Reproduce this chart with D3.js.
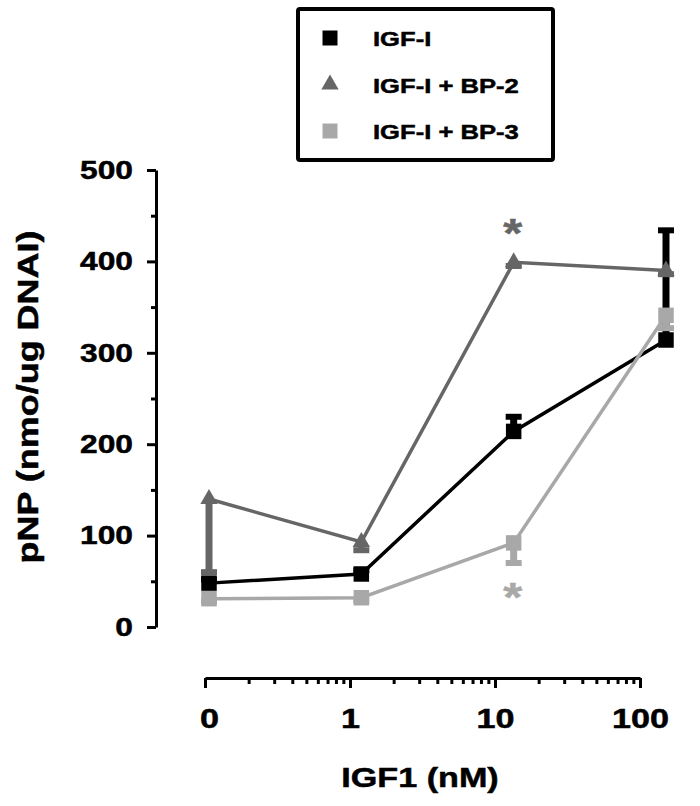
<!DOCTYPE html>
<html>
<head>
<meta charset="utf-8">
<script src="https://cdn.jsdelivr.net/npm/d3@7"></script>
<style>
  body { margin: 0; background: #fff; }
  svg text { font-family: "Liberation Sans", Arial, sans-serif; font-weight: bold; stroke: currentColor; stroke-width: 0.5px; }
</style>
</head>
<body>
<script>
var width = 700,
    height = 806,
    sx = 1.22;   // the figure's lettering is stretched sideways

// data
var conc = [0, 1, 10, 100];
var igf = [48, 58, 214, 314];
var igfErr = [4, 4, 16, 120];
var bp2 = [140, 93, 399, 390];
var bp2Err = [80, 9, 4, 4];
var bp3 = [31, 32, 92, 341];
var bp3Err = [3, 3, 22, 14];
var seriesNames = ["IGF-I", "IGF-I + BP-2", "IGF-I + BP-3"];
var colors = ["#000000", "#666666", "#a8a8a8"];
var symbols = [d3.symbolSquare, d3.symbolTriangle, d3.symbolSquare];
var errDir = [1, -1, -1];   // IGF-I bars go up, the others go down
var yTicks = [0, 100, 200, 300, 400, 500];
var yMinor = [50, 150, 250, 350, 450];
var xTickValues = [0.1, 1, 10, 100];
var xTickLabels = ["0", "1", "10", "100"];
var stars = [{x: 10, series: 1, dy: -1}, {x: 10, series: 2, dy: 1}];

var series = [
  {name: seriesNames[0], values: igf, err: igfErr},
  {name: seriesNames[1], values: bp2, err: bp2Err},
  {name: seriesNames[2], values: bp3, err: bp3Err}
];

var svg = d3.select("body").append("svg")
    .attr("width", width)
    .attr("height", height)
    .style("color", "#000");

function stretch(sel) {
  sel.each(function() {
    var t = d3.select(this);
    var x = +t.attr("x") || 0;
    t.attr("x", x / sx).attr("transform", "scale(" + sx + ",1)");
  });
}

var y = d3.scaleLinear().domain([0, 500]).range([627, 170]);
// points are plotted a bit wider than the drawn axis, as in the figure
var xData = d3.scaleLog().domain([0.1, 100]).range([209, 666]);
var xAxisScale = d3.scaleLog().domain([0.1, 100]).range([205, 640]);
function xPos(c) { return xData(c === 0 ? 0.1 : c); }

// y axis
var yAxis = svg.append("g")
    .attr("transform", "translate(156,0)")
    .call(d3.axisLeft(y).tickValues(yTicks).tickSize(9).tickSizeOuter(0).tickPadding(14));
svg.append("g")
    .attr("transform", "translate(156,0)")
    .call(d3.axisLeft(y).tickValues(yMinor).tickSize(5).tickSizeOuter(0).tickFormat(""))
    .select(".domain").remove();

// x axis
var minor = [];
[0.1, 1, 10].forEach(function(d) {
  for (var k = 2; k <= 9; k++) minor.push(d * k);
});
var xAxis = svg.append("g")
    .attr("transform", "translate(0,678)")
    .call(d3.axisBottom(xAxisScale).tickValues(xTickValues)
      .tickFormat(function(d, i) { return xTickLabels[i]; })
      .tickSize(10).tickSizeOuter(0).tickPadding(20));
svg.append("g")
    .attr("transform", "translate(0,678)")
    .call(d3.axisBottom(xAxisScale).tickValues(minor).tickSize(6).tickSizeOuter(0).tickFormat(""))
    .select(".domain").remove();

svg.selectAll(".domain").attr("stroke", "#000").attr("stroke-width", 3);
svg.selectAll(".tick line").attr("stroke", "#000").attr("stroke-width", 3);
yAxis.selectAll(".tick text").attr("font-size", 26).attr("fill", "#000").call(stretch);
xAxis.selectAll(".tick text").attr("font-size", 28).attr("fill", "#000").call(stretch);
xAxis.select(".tick text").attr("x", 4 / sx);

// axis titles
svg.append("text")
    .attr("transform", "translate(38,397) rotate(-90) scale(" + sx + ",1)")
    .attr("text-anchor", "middle")
    .attr("font-size", 29.5)
    .text("pNP (nmo/ug DNAI)");

svg.append("text")
    .attr("transform", "translate(420,787) scale(" + sx + ",1)")
    .attr("text-anchor", "middle")
    .attr("font-size", 28)
    .text("IGF1 (nM)");

// series
var line = d3.line()
    .x(function(d) { return xPos(d.c); })
    .y(function(d) { return y(d.v); });

series.forEach(function(s, i) {
  var pts = conc.map(function(c, j) { return {c: c, v: s.values[j], e: s.err[j]}; });
  var g = svg.append("g");

  g.append("path")
    .datum(pts)
    .attr("fill", "none")
    .attr("stroke", colors[i])
    .attr("stroke-width", 3.5)
    .attr("d", line);

  g.selectAll(".err")
    .data(pts)
  .enter().append("line")
    .attr("x1", function(d) { return xPos(d.c); })
    .attr("x2", function(d) { return xPos(d.c); })
    .attr("y1", function(d) { return y(d.v); })
    .attr("y2", function(d) { return y(d.v + errDir[i] * d.e); })
    .attr("stroke", colors[i])
    .attr("stroke-width", 7);

  g.selectAll(".cap")
    .data(pts)
  .enter().append("line")
    .attr("x1", function(d) { return xPos(d.c) - 8; })
    .attr("x2", function(d) { return xPos(d.c) + 8; })
    .attr("y1", function(d) { return y(d.v + errDir[i] * d.e); })
    .attr("y2", function(d) { return y(d.v + errDir[i] * d.e); })
    .attr("stroke", colors[i])
    .attr("stroke-width", 6);

  g.selectAll(".pt")
    .data(pts)
  .enter().append("path")
    .attr("transform", function(d) { return "translate(" + xPos(d.c) + "," + y(d.v) + ")"; })
    .attr("d", d3.symbol().type(symbols[i]).size(i === 1 ? 130 : 240))
    .attr("fill", colors[i]);
});

// significance stars
stars.forEach(function(st) {
  var s = series[st.series];
  var v = s.values[conc.indexOf(st.x)];
  svg.append("text")
    .attr("transform", "translate(" + (xPos(st.x) - 1) + "," + (y(v) + (st.dy < 0 ? -15 : 68)) + ") scale(" + sx + ",1)")
    .attr("text-anchor", "middle")
    .attr("font-size", 40)
    .attr("fill", colors[st.series])
    .style("color", colors[st.series])
    .text("*");
});

// legend
var legend = svg.append("g");
legend.append("rect")
    .attr("x", 298)
    .attr("y", 9)
    .attr("width", 255)
    .attr("height", 151)
    .attr("rx", 2)
    .attr("fill", "#fff")
    .attr("stroke", "#000")
    .attr("stroke-width", 4);

var items = legend.selectAll(".item")
    .data(seriesNames)
  .enter().append("g")
    .attr("transform", function(d, i) { return "translate(330," + (38 + i * 46.5) + ")"; });

items.append("path")
    .attr("d", function(d, i) { return d3.symbol().type(symbols[i]).size(i === 1 ? 130 : 225)(); })
    .attr("fill", function(d, i) { return colors[i]; });

items.append("text")
    .attr("transform", "translate(43,8) scale(" + sx + ",1)")
    .attr("font-size", 21)
    .text(function(d) { return d; });
</script>
</body>
</html>
